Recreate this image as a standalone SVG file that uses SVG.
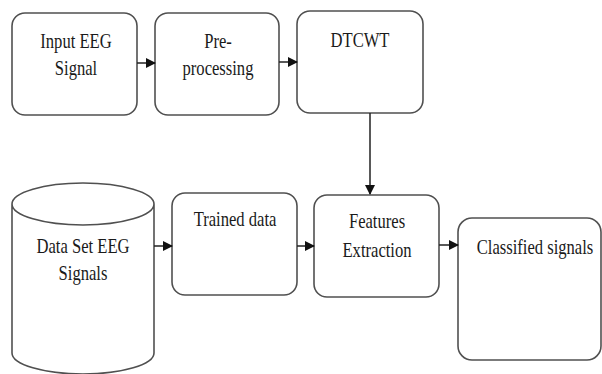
<svg xmlns="http://www.w3.org/2000/svg" width="602" height="374" viewBox="0 0 602 374">
<style>
.box{fill:#fff;stroke:#505050;stroke-width:1.6}
.c{stroke:#222;stroke-width:1.5;fill:none}
</style>
<defs>
<marker id="ah" markerWidth="10" markerHeight="10" refX="9" refY="5" orient="auto" markerUnits="userSpaceOnUse">
<path d="M0,0 L10,5 L0,10 Z" fill="#111"/>
</marker>
</defs>
<rect width="602" height="374" fill="#fff"/>
<g id="input">
<rect class="box" x="12" y="13" width="125" height="102" rx="13"/>
<text font-size="20" font-family="Liberation Serif" fill="#1a1a1a" text-anchor="middle" transform="matrix(0.83 0 0 1 76 48)">Input EEG</text>
<text font-size="20" font-family="Liberation Serif" fill="#1a1a1a" text-anchor="middle" transform="matrix(0.83 0 0 1 76 75)">Signal</text>
</g>
<g id="preprocessing">
<rect class="box" x="155" y="13" width="124" height="102" rx="13"/>
<text font-size="20" font-family="Liberation Serif" fill="#1a1a1a" text-anchor="middle" transform="matrix(0.83 0 0 1 218 48)">Pre-</text>
<text font-size="20" font-family="Liberation Serif" fill="#1a1a1a" text-anchor="middle" transform="matrix(0.83 0 0 1 218 75)">processing</text>
</g>
<g id="dtcwt">
<rect class="box" x="297" y="11" width="126" height="102" rx="13"/>
<text font-size="20" font-family="Liberation Serif" fill="#1a1a1a" text-anchor="middle" transform="matrix(0.83 0 0 1 360 47)">DTCWT</text>
</g>
<g id="dataset">
<path class="box" d="M12,204 L12,353 A71,21 0 0 0 154,353 L154,204 A71,21 0 0 0 12,204 A71,21 0 0 0 154,204"/>
<text font-size="20" font-family="Liberation Serif" fill="#1a1a1a" text-anchor="middle" transform="matrix(0.83 0 0 1 83 253)">Data Set EEG</text>
<text font-size="20" font-family="Liberation Serif" fill="#1a1a1a" text-anchor="middle" transform="matrix(0.83 0 0 1 83 280)">Signals</text>
</g>
<g id="trained">
<rect class="box" x="172" y="193" width="125" height="102" rx="13"/>
<text font-size="20" font-family="Liberation Serif" fill="#1a1a1a" text-anchor="middle" transform="matrix(0.83 0 0 1 235 226)">Trained data</text>
</g>
<g id="features">
<rect class="box" x="314" y="195" width="125" height="102" rx="13"/>
<text font-size="20" font-family="Liberation Serif" fill="#1a1a1a" text-anchor="middle" transform="matrix(0.83 0 0 1 377 228)">Features</text>
<text font-size="20" font-family="Liberation Serif" fill="#1a1a1a" text-anchor="middle" transform="matrix(0.83 0 0 1 377 257)">Extraction</text>
</g>
<g id="classified">
<rect class="box" x="458" y="218" width="143" height="142" rx="14"/>
<text font-size="20" font-family="Liberation Serif" fill="#1a1a1a" text-anchor="middle" transform="matrix(0.83 0 0 1 535 254)">Classified signals</text>
</g>
<g id="connectors">
<line class="c" marker-end="url(#ah)" x1="137" y1="63" x2="155" y2="63"/>
<line class="c" marker-end="url(#ah)" x1="279" y1="62" x2="297" y2="62"/>
<line class="c" marker-end="url(#ah)" x1="370" y1="113" x2="370" y2="194"/>
<line class="c" marker-end="url(#ah)" x1="154" y1="246" x2="172" y2="246"/>
<line class="c" marker-end="url(#ah)" x1="297" y1="246" x2="314" y2="246"/>
<line class="c" marker-end="url(#ah)" x1="439" y1="245" x2="458" y2="245"/>
</g>
</svg>
